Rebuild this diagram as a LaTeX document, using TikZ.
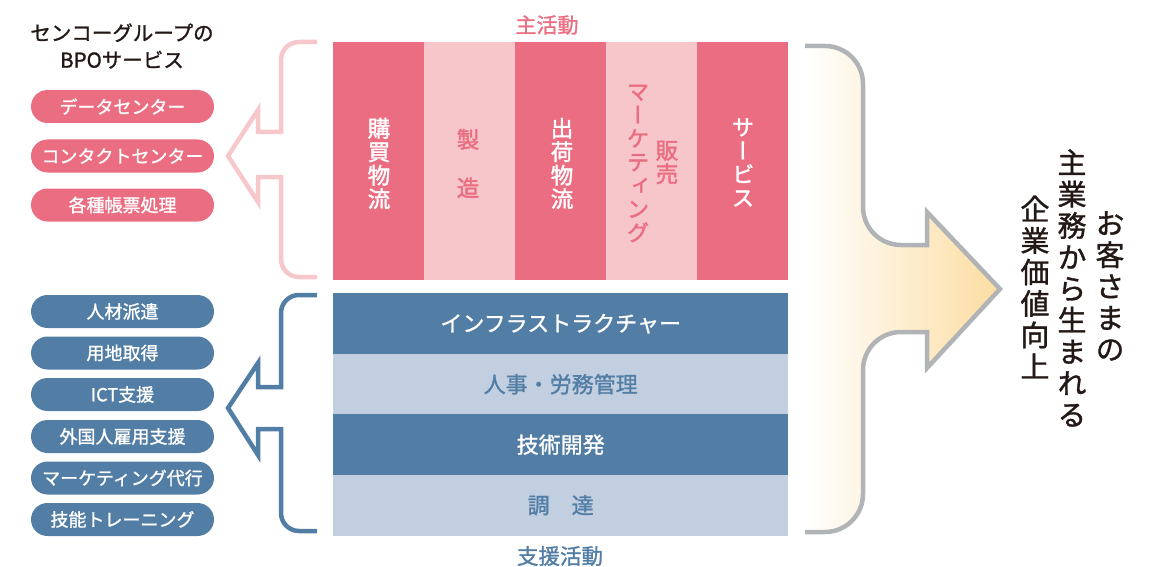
\documentclass[tikz,border=0pt]{standalone}
\usepackage{fontspec}
\setmainfont{Noto Sans CJK JP}[FakeBold=1.2]
\newfontfamily\jpv{Noto Sans CJK JP}[RawFeature=+vert,FakeBold=1.8]
\newfontfamily\jpvm{Noto Sans CJK JP}[RawFeature=+vert,FakeBold=1.2]
\definecolor{pk}{HTML}{EB6D81}
\definecolor{lpk}{HTML}{F6C6CA}
\definecolor{pkline}{HTML}{F6C8CC}
\definecolor{bl}{HTML}{527DA5}
\definecolor{lbl}{HTML}{C2CFE1}
\definecolor{gr}{HTML}{B0B4B7}
\definecolor{org}{HTML}{FCDDA2}
\definecolor{ink}{HTML}{231815}
\begin{document}
\begin{tikzpicture}[x=1pt,y=-1pt,
  pill/.style={rounded corners=16.5pt, minimum width=183pt, minimum height=33pt, inner sep=0pt,
    text=white, font=\fontsize{18}{18}\selectfont},
  pinkpill/.style={pill, fill=pk},
  bluepill/.style={pill, fill=bl},
  col/.style={minimum width=91.2pt, minimum height=238pt, inner sep=0pt, anchor=north west},
  darkcol/.style={col, fill=pk, text=white},
  lightcol/.style={col, fill=lpk, text=pk},
  vt/.style={inner sep=0pt, align=center, font=\jpv\fontsize{22.5}{23.5}\selectfont},
  row/.style={minimum width=455pt, minimum height=61pt, inner sep=0pt, anchor=north west,
    font=\fontsize{22}{22}\selectfont},
  darkrow/.style={row, fill=bl, text=white},
  lightrow/.style={row, fill=lbl, text=bl},
  brace/.style={line width=4.5pt, line join=miter},
  bigtxt/.style={inner sep=0pt, align=center, text=ink, font=\jpvm\fontsize{29}{31.5}\selectfont}
]
\useasboundingbox (0,0) rectangle (1154,567);

% title
\node[align=center, text=ink, font=\fontsize{20.5}{27}\selectfont] (title) at (122,46) {センコーグループの\\BPOサービス};

% pink pills
\node[pinkpill] (p1) at (122.5,106.5) {データセンター};
\node[pinkpill] (p2) at (122.5,156) {コンタクトセンター};
\node[pinkpill] (p3) at (122.5,205) {各種帳票処理};

% blue pills
\node[bluepill] (b1) at (122.5,311.5) {人材派遣};
\node[bluepill] (b2) at (122.5,353) {用地取得};
\node[bluepill] (b3) at (122.5,394.5) {ICT支援};
\node[bluepill] (b4) at (122.5,436.5) {外国人雇用支援};
\node[bluepill] (b5) at (122.5,478) {マーケティング代行};
\node[bluepill] (b6) at (122.5,519.5) {技能トレーニング};

% pink brace arrow
\draw[brace, pkline] (317,42) -- (299,42) .. controls (289,42) and (281,50) .. (281,60)
  -- (281,132) -- (258,132) -- (258,110) -- (228,156) -- (258,202) -- (258,177) -- (281,177)
  -- (281,259) .. controls (281,269) and (289,277) .. (299,277) -- (317,277);

% blue brace arrow
\draw[brace, bl] (317,295) -- (299,295) .. controls (289,295) and (281,303) .. (281,313)
  -- (281,387) -- (258,387) -- (258,363) -- (228,408) -- (258,455) -- (258,429) -- (281,429)
  -- (281,513) .. controls (281,523) and (289,531) .. (299,531) -- (317,531);

% main activities
\node[text=pk, font=\fontsize{21}{21}\selectfont] (mainlbl) at (547,25) {主活動};
\node[darkcol] (c1) at (333,42) {};
\node[lightcol] (c2) at (424,42) {};
\node[darkcol] (c3) at (515,42) {};
\node[lightcol] (c4) at (606,42) {};
\node[darkcol] (c5) at (697,42) {};
\node[vt, text=white] (t1) at (379,163.5) {購\\買\\物\\流};
\node[vt, text=pk] (t2) at (468,163.5) {製\\[25pt]造};
\node[vt, text=white] (t3) at (562,163.5) {出\\荷\\物\\流};
\node[vt, text=pk] (t4a) at (638,163.5) {マ\\ー\\ケ\\テ\\ィ\\ン\\グ};
\node[vt, text=pk] (t4b) at (667,162.5) {販\\売};
\node[vt, text=white] (t5) at (743,162.5) {サ\\ー\\ビ\\ス};

% support activities
\node[darkrow] (r1) at (333,293) {インフラストラクチャー};
\node[lightrow] (r2) at (333,353.5) {人事・労務管理};
\node[darkrow] (r3) at (333,414) {技術開発};
\node[lightrow] (r4) at (333,474.5) {調　達};
\node[text=bl, font=\fontsize{21.5}{21.5}\selectfont] (suplbl) at (560,556) {支援活動};

% gray arrow
\shade[left color=white, right color=org] (805,46) -- (825,46) .. controls (846,46) and (863,63) .. (863,84)
  -- (863,207) .. controls (863,228) and (880,245) .. (901,245) -- (927,245) -- (927,212)
  -- (1000,289) -- (927,368) -- (927,332) -- (901,332) .. controls (880,332) and (863,349) .. (863,370)
  -- (863,494) .. controls (863,515) and (846,532) .. (825,532) -- (805,532) -- cycle;
\draw[brace, gr] (805,46) -- (825,46) .. controls (846,46) and (863,63) .. (863,84)
  -- (863,207) .. controls (863,228) and (880,245) .. (901,245) -- (927,245) -- (927,212)
  -- (1000,289) -- (927,368) -- (927,332) -- (901,332) .. controls (880,332) and (863,349) .. (863,370)
  -- (863,494) .. controls (863,515) and (846,532) .. (825,532) -- (805,532);

% result text
\node[bigtxt] (res1) at (1110,286) {お\\客\\さ\\ま\\の};
\node[bigtxt] (res2) at (1072,288) {主\\業\\務\\か\\ら\\生\\ま\\れ\\る};
\node[bigtxt] (res3) at (1035,287) {企\\業\\価\\値\\向\\上};
\end{tikzpicture}
\end{document}
